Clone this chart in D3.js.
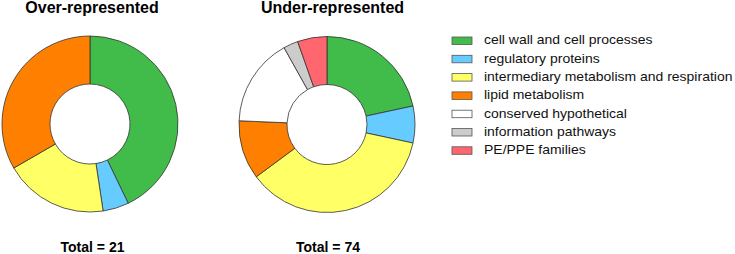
<!DOCTYPE html>
<html>
<head>
<meta charset="utf-8">
<script src="https://cdn.jsdelivr.net/npm/d3@7"></script>
<style>
  body { margin: 0; background: #fff; }
  text { font-family: "Liberation Sans", Arial, Helvetica, sans-serif; }
</style>
</head>
<body>
<div id="chart"></div>
<script>
// Categories and counts
const categories = [
  "cell wall and cell processes",
  "regulatory proteins",
  "intermediary metabolism and respiration",
  "lipid metabolism",
  "conserved hypothetical",
  "information pathways",
  "PE/PPE families"
];
const overCounts = [9, 1, 4, 7, 0, 0, 0];
const underCounts = [16, 5, 27, 8, 12, 2, 4];
const chartTitles = ["Over-represented", "Under-represented"];

const palette = ["#41bc4a", "#66ccff", "#ffff66", "#ff8000", "#ffffff", "#cccccc", "#ff6670"];

const width = 735;
const height = 254;

const color = d3.scaleOrdinal().domain(categories).range(palette);

const svg = d3.select("#chart")
    .append("svg")
    .attr("width", width)
    .attr("height", height)
    .attr("viewBox", [0, 0, width, height]);

const pie = d3.pie().sort(null).value(d => d.value);
const arc = d3.arc().innerRadius(40).outerRadius(88);

function drawDonut(counts, title, cx, cy, titleX, totalX) {
  const data = categories.map((c, i) => ({ name: c, value: counts[i] }));
  const g = svg.append("g").attr("transform", `translate(${cx},${cy})`);

  g.selectAll("path")
    .data(pie(data).filter(d => d.data.value > 0))
    .join("path")
      .attr("d", arc)
      .attr("fill", d => color(d.data.name))
      .attr("stroke", "#333")
      .attr("stroke-width", 0.8);

  svg.append("text")
      .attr("x", titleX)
      .attr("y", 13)
      .attr("text-anchor", "middle")
      .attr("font-size", 16)
      .attr("font-weight", "bold")
      .text(title);

  svg.append("text")
      .attr("x", totalX)
      .attr("y", 251.5)
      .attr("text-anchor", "middle")
      .attr("font-size", 14)
      .attr("font-weight", "bold")
      .text(`Total = ${d3.sum(counts)}`);
}

drawDonut(overCounts, chartTitles[0], 90, 124, 92, 92.5);
drawDonut(underCounts, chartTitles[1], 327, 124.5, 332.5, 328);

// Legend
const legend = svg.append("g").attr("transform", "translate(452,37)");
const rowH = 18.3;

legend.selectAll("rect")
  .data(categories)
  .join("rect")
    .attr("x", 0)
    .attr("y", (d, i) => i * rowH)
    .attr("width", 20)
    .attr("height", 7.5)
    .attr("fill", d => color(d))
    .attr("stroke", "#555")
    .attr("stroke-width", 0.8);

legend.selectAll("text")
  .data(categories)
  .join("text")
    .attr("transform", (d, i) => `translate(32,${i * rowH + 7.3}) scale(1.165,1)`)
    .attr("font-size", 12)
    .attr("fill", "#111")
    .text(d => d);
</script>
</body>
</html>
